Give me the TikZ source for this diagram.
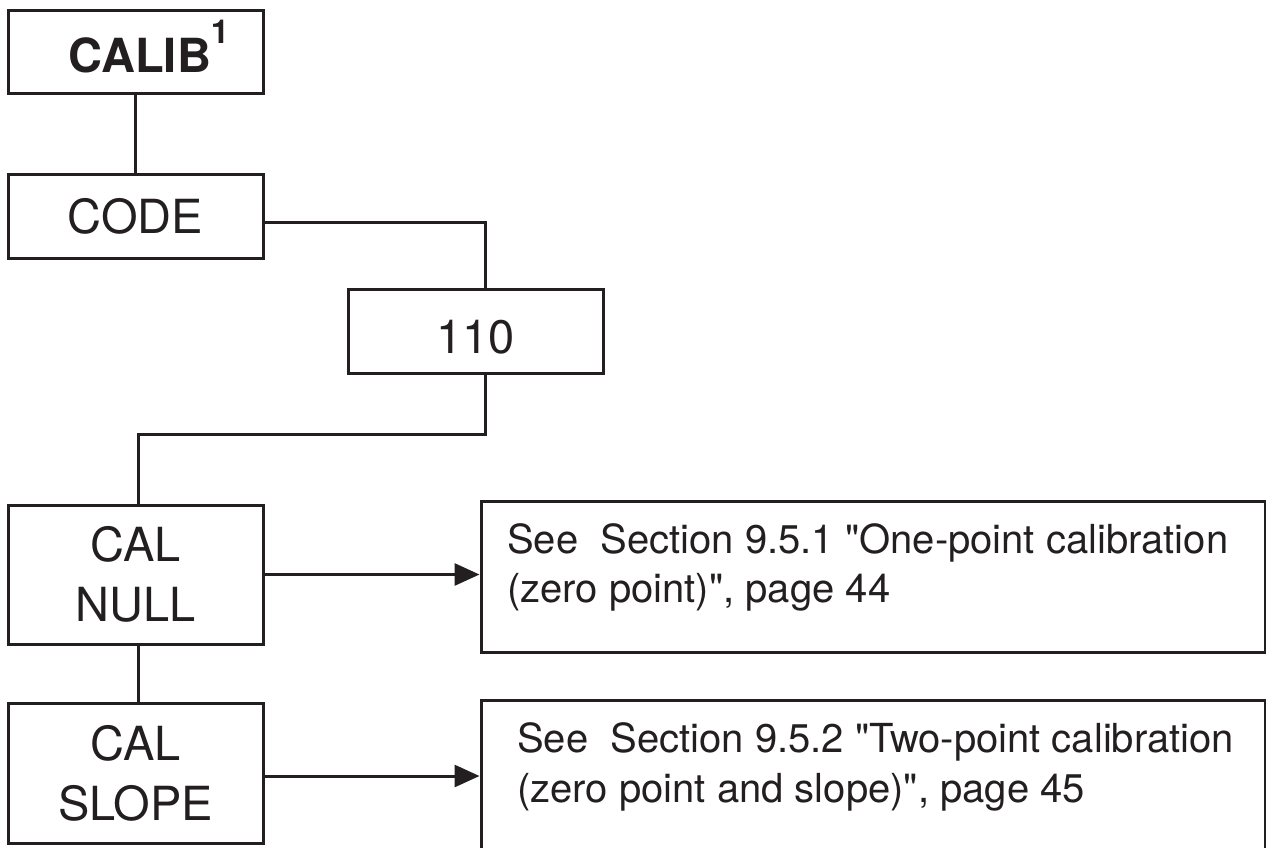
\documentclass[tikz,border=0pt]{standalone}
\usepackage{fontspec}
\setmainfont{TeX Gyre Heros}
\usetikzlibrary{arrows.meta}
\definecolor{ink}{RGB}{35,31,32}
\begin{document}
\begin{tikzpicture}[x=1pt,y=-1pt,
  box/.style={draw=ink, line width=3pt, rectangle, minimum width=255pt, inner sep=0pt,
    font=\fontsize{47}{60}\selectfont, text=ink, align=center},
  rbox/.style={draw=ink, line width=3pt, rectangle, minimum width=784pt, inner sep=0pt},
  rtext/.style={anchor=base west, inner sep=0pt, font=\fontsize{40}{48}\selectfont, text=ink},
  conn/.style={draw=ink, line width=3pt},
  arr/.style={conn, -{Triangle[length=25pt,width=22pt]}}]
\useasboundingbox (0,0) rectangle (1266,847);
% left column boxes
\node[box, minimum height=83pt, text height=41pt, text depth=0pt] (calib) at (135.5,51.5)
  {\hspace*{27pt}\textbf{CALIB}\raisebox{29pt}{\fontsize{33}{33}\selectfont\bfseries 1}};
\node[box, minimum height=84pt] (code) at (135.5,216) {CODE};
\node[box, minimum height=84pt, text height=44pt, text depth=0pt] (n110) at (475.5,331) {110};
\node[box, minimum height=139pt] (cnull) at (135.5,574.5) {CAL\\NULL};
\node[box, minimum height=140pt] (cslope) at (135.5,773) {CAL\\SLOPE};
% right boxes
\node[rbox, minimum height=151pt] (r1) at (873,576.5) {};
\node[rbox, minimum height=152pt] (r2) at (873,776) {};
\node[rtext] (r1a) at (507,553) {See\ \ Section 9.5.1 \textquotedbl One-point calibration};
\node[rtext] (r1b) at (507,602) {(zero point)\textquotedbl, page 44};
\node[rtext] (r2a) at (517,752) {See\ \ Section 9.5.2 \textquotedbl Two-point calibration};
\node[rtext] (r2b) at (517,802) {(zero point and slope)\textquotedbl, page 45};
% connectors
\draw[conn] (calib) -- (code);
\draw[conn] ([yshift=-6pt]code.east) -| ([xshift=9.5pt]n110.north);
\draw[conn] ([xshift=9.5pt]n110.south) -- ++(0,60) coordinate (bend) -| ([xshift=2.5pt]cnull.north);
\draw[conn] ([xshift=2.5pt]cnull.south) -- ([xshift=2.5pt]cslope.north);
\draw[arr] (cnull.east) -- (cnull.east -| r1.west);
\draw[arr] (r2.west -| cslope.east) -- (r2.west);
\end{tikzpicture}
\end{document}
